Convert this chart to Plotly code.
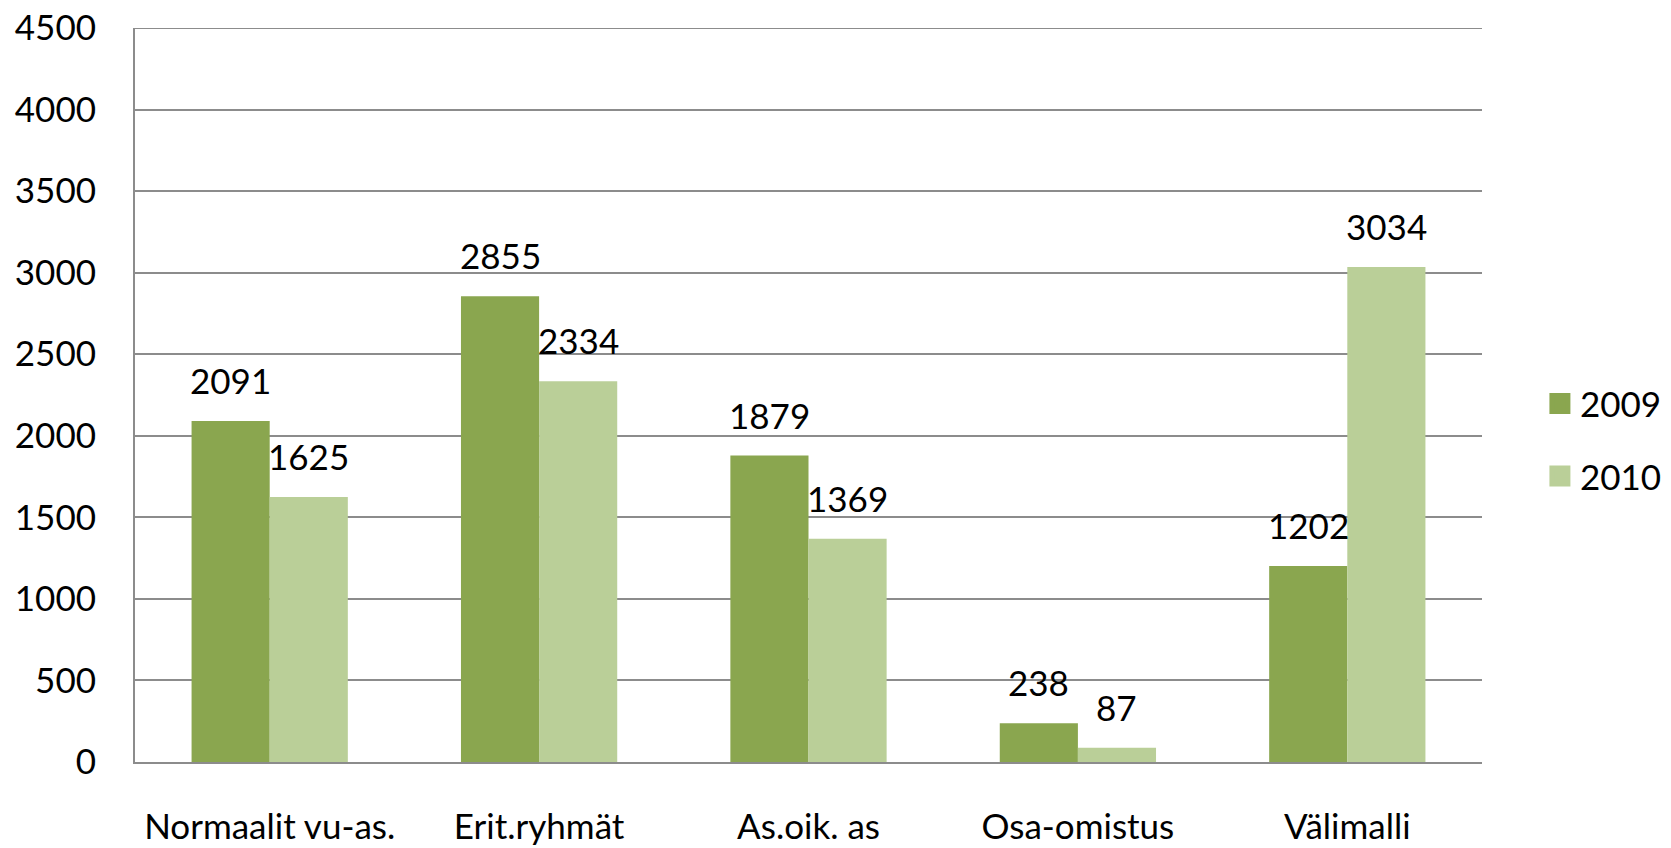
import plotly.graph_objects as go

categories = ["Normaalit vu-as.", "Erit.ryhmät", "As.oik. as", "Osa-omistus", "Välimalli"]
series_names = ["2009", "2010"]
values_2009 = [2091, 2855, 1879, 238, 1202]
values_2010 = [1625, 2334, 1369, 87, 3034]
y_ticks = [0, 500, 1000, 1500, 2000, 2500, 3000, 3500, 4000, 4500]

FONT = "Lato, 'Open Sans', sans-serif"
FS = 35
COLORS = ["#8AA64F", "#BACF98"]
BAR_PX = 78  # approximate pixel width of one bar, used to offset labels

fig = go.Figure()
for name, vals, col in zip(series_names, [values_2009, values_2010], COLORS):
    fig.add_trace(go.Bar(name=name, x=categories, y=vals, marker_color=col,
                         showlegend=False, marker_line_width=0))
    # legend proxy with square marker
    fig.add_trace(go.Scatter(name=name, x=[None], y=[None], mode="markers",
                             marker=dict(symbol="square", size=22, color=col,
                                         line=dict(color=col, width=5)),
                             legendgroup=name, showlegend=True))

# value labels above bars
annotations = []
for i, vals in enumerate([values_2009, values_2010]):
    shift = -BAR_PX / 2 if i == 0 else BAR_PX / 2
    for c, v in zip(categories, vals):
        annotations.append(dict(x=c, y=v, text=str(v), showarrow=False, xref="x", yref="y",
                                xanchor="center", yanchor="bottom", xshift=shift, yshift=18,
                                font=dict(family=FONT, size=FS, color="black")))

fig.update_layout(
    width=1671, height=848,
    margin=dict(l=135, r=189, t=28, b=86, autoexpand=False),
    paper_bgcolor="white", plot_bgcolor="white",
    barmode="group", bargap=0.42, bargroupgap=0,
    font=dict(family=FONT, size=FS, color="black"),
    showlegend=True,
    legend=dict(x=1.043, y=0.439, xanchor="left", yanchor="middle",
                font=dict(family=FONT, size=FS, color="black"),
                tracegroupgap=24, itemsizing="trace", bgcolor="rgba(0,0,0,0)"),
    annotations=annotations,
)
fig.update_xaxes(showline=True, linecolor="#8C8C8C", linewidth=2, ticks="", automargin=False,
                 tickfont=dict(family=FONT, size=FS, color="black"), ticklabelstandoff=33)
fig.update_yaxes(range=[0, 4500], tickvals=y_ticks, showgrid=True, gridcolor="#8C8C8C",
                 gridwidth=2, showline=True, linecolor="#8C8C8C", linewidth=2, automargin=False,
                 zeroline=False, ticks="", ticklabelstandoff=30,
                 tickfont=dict(family=FONT, size=FS, color="black"))
# top gridline at the last tick value
fig.add_shape(type="line", xref="paper", x0=0, x1=1, yref="y", y0=y_ticks[-1], y1=y_ticks[-1],
              line=dict(color="#8C8C8C", width=2), layer="below")

fig.write_html("out.html", config={"displayModeBar": False},
               post_script="document.body.style.margin='0px';document.body.style.overflow='hidden';")
